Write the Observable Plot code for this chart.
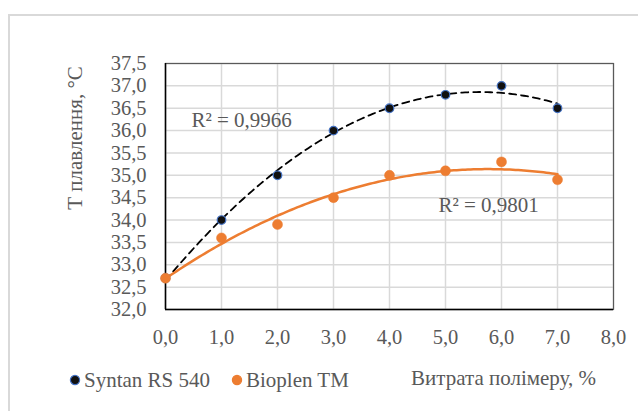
<!DOCTYPE html>
<html>
<head>
<meta charset="utf-8">
<script src="https://cdn.jsdelivr.net/npm/d3@7"></script>
<script src="https://cdn.jsdelivr.net/npm/@observablehq/plot@0.6"></script>
<style>
  body { margin: 0; background: #fff; }
  #wrap { position: relative; width: 638px; height: 411px; overflow: hidden; font-family: 'Liberation Serif'; color: #595959; }
  #frame { position: absolute; left: 8px; top: 14px; width: 700px; height: 500px; border-left: 2px solid #d9d9d9; border-top: 2px solid #d9d9d9; }
  .lbl { position: absolute; font-family: 'Liberation Serif'; font-size: 21px; white-space: nowrap; line-height: 24px; }
  .leg { position: absolute; top: 368px; display: flex; align-items: center; font-family: 'Liberation Serif'; font-size: 21px; line-height: 24px; white-space: nowrap; }
  .leg svg { margin-right: 3px; }
  #chart { position: absolute; left: 0; top: 0; }
  #chart svg text { font-family: 'Liberation Serif'; }
</style>
</head>
<body>
<div id="wrap">
  <div id="frame"></div>
  <div id="chart"></div>
</div>
<script>
const xValues = [0, 1, 2, 3, 4, 5, 6, 7];
const syntanValues = [32.7, 34.0, 35.0, 36.0, 36.5, 36.8, 37.0, 36.5];
const bioplenValues = [32.7, 33.6, 33.9, 34.5, 35.0, 35.1, 35.3, 34.9];
const seriesNames = ["Syntan RS 540", "Bioplen TM"];
const xTicks = [0, 1, 2, 3, 4, 5, 6, 7, 8];
const yTicks = [32, 32.5, 33, 33.5, 34, 34.5, 35, 35.5, 36, 36.5, 37, 37.5];
const r2Labels = [
  {x: 1.36, y: 36.22, text: "R² = 0,9966"},
  {x: 5.77, y: 34.33, text: "R² = 0,9801"}
];
const xTitle = "Витрата полімеру, %";
const yTitle = "Т плавлення, °С";

// quadratic least squares fit (Excel polynomial trendline, order 2)
function quadFit(xs, ys) {
  const n = xs.length;
  let s = [0,0,0,0,0], t = [0,0,0];
  for (let i = 0; i < n; i++) {
    const x = xs[i], y = ys[i];
    for (let k = 0; k <= 4; k++) s[k] += Math.pow(x, k);
    for (let k = 0; k <= 2; k++) t[k] += Math.pow(x, k) * y;
  }
  const A = [[s[0], s[1], s[2], t[0]], [s[1], s[2], s[3], t[1]], [s[2], s[3], s[4], t[2]]];
  for (let i = 0; i < 3; i++) {
    let p = i;
    for (let j = i + 1; j < 3; j++) if (Math.abs(A[j][i]) > Math.abs(A[p][i])) p = j;
    [A[i], A[p]] = [A[p], A[i]];
    for (let j = 0; j < 3; j++) if (j !== i) {
      const f = A[j][i] / A[i][i];
      for (let k = i; k < 4; k++) A[j][k] -= f * A[i][k];
    }
  }
  const c = [A[0][3] / A[0][0], A[1][3] / A[1][1], A[2][3] / A[2][2]];
  return x => c[0] + c[1] * x + c[2] * x * x;
}
function fitLine(xs, ys) {
  const f = quadFit(xs, ys);
  const pts = [];
  const x0 = d3.min(xs), x1 = d3.max(xs);
  for (let i = 0; i <= 140; i++) { const x = x0 + (x1 - x0) * i / 140; pts.push({x, y: f(x)}); }
  return pts;
}
const syntan = xValues.map((x, i) => ({x, y: syntanValues[i]}));
const bioplen = xValues.map((x, i) => ({x, y: bioplenValues[i]}));
const fmt = d => d.toFixed(1).replace(".", ",");

const chart = Plot.plot({
  width: 638,
  height: 411,
  marginLeft: 165,
  marginRight: 25,
  marginTop: 63,
  marginBottom: 102,
  x: {domain: [0, 8]},
  y: {domain: [32, 37.5]},
  style: {fontFamily: "Liberation Serif", fontSize: "20px", color: "#595959", background: "transparent", overflow: "visible"},
  marks: [
    Plot.ruleX(xTicks, {stroke: "#d9d9d9", strokeWidth: 1.5}),
    Plot.ruleY(yTicks, {stroke: "#d9d9d9", strokeWidth: 1.5}),
    Plot.frame({stroke: "#595959", strokeWidth: 1.2}),
    Plot.ruleX([0], {stroke: "#000", strokeWidth: 1.5}),
    Plot.ruleY([32], {stroke: "#000", strokeWidth: 1.5}),
    Plot.axisX({ticks: xTicks, tickFormat: fmt, tickSize: 0, tickPadding: 20, label: null, fontSize: 20.5, fontFamily: "Liberation Serif"}),
    Plot.axisY({ticks: yTicks, tickFormat: fmt, tickSize: 0, tickPadding: 19, label: null, fontSize: 20.5, fontFamily: "Liberation Serif"}),
    Plot.line(fitLine(xValues, syntanValues), {x: "x", y: "y", stroke: "#000", strokeWidth: 1.8, strokeDasharray: "7,5"}),
    Plot.line(fitLine(xValues, bioplenValues), {x: "x", y: "y", stroke: "#ED7D31", strokeWidth: 2.5}),
    Plot.dot(syntan, {x: "x", y: "y", r: 4.3, fill: "#111", stroke: "#4472C4", strokeWidth: 1.2}),
    Plot.dot(bioplen, {x: "x", y: "y", r: 5, fill: "#ED7D31", stroke: "#ED7D31", strokeWidth: 0.5}),
    Plot.text(r2Labels, {x: "x", y: "y", text: "text", fill: "#595959", fontSize: 21, fontFamily: "Liberation Serif"})
  ]
});
document.getElementById("chart").appendChild(chart);

const wrap = document.getElementById("wrap");
function addLegend(left, name, fill, stroke) {
  const d = document.createElement("div");
  d.className = "leg";
  d.style.left = left + "px";
  d.innerHTML = `<svg width="12" height="12"><circle cx="6" cy="6" r="4.6" fill="${fill}" stroke="${stroke}" stroke-width="1.2"/></svg><span>${name}</span>`;
  wrap.appendChild(d);
}
addLegend(69, seriesNames[0], "#111", "#4472C4");
addLegend(231, seriesNames[1], "#ED7D31", "#ED7D31");

const xt = document.createElement("div");
xt.className = "lbl";
xt.style.left = "411px";
xt.style.top = "366px";
xt.textContent = xTitle;
wrap.appendChild(xt);

const yt = document.createElement("div");
yt.className = "lbl";
yt.style.width = "220px";
yt.style.textAlign = "center";
yt.style.left = (75 - 110) + "px";
yt.style.top = (138 - 12) + "px";
yt.style.transform = "rotate(-90deg)";
yt.style.transformOrigin = "50% 50%";
yt.textContent = yTitle;
wrap.appendChild(yt);
</script>
</body>
</html>
